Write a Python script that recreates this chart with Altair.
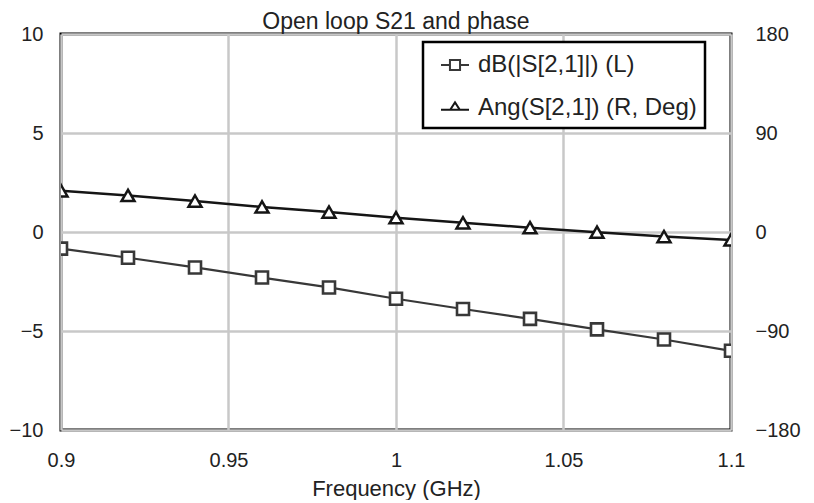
import altair as alt
import pandas as pd

freq = [0.90, 0.92, 0.94, 0.96, 0.98, 1.00, 1.02, 1.04, 1.06, 1.08, 1.10]
s21_db = [-0.84, -1.30, -1.79, -2.30, -2.80, -3.37, -3.89, -4.39, -4.92, -5.43, -6.00]
s21_ang = [37.5, 33.2, 28.1, 22.8, 18.1, 13.0, 8.4, 3.9, -0.2, -4.2, -7.2]

series = ["dB(|S[2,1]|) (L)", "Ang(S[2,1]) (R, Deg)"]
x_ticks = [0.9, 0.95, 1.0, 1.05, 1.1]
left_ticks = [-10, -5, 0, 5, 10]
right_ticks = [-180, -90, 0, 90, 180]

FONT = "Liberation Sans"
C_DB = "#383838"
C_ANG = "#151515"

df = pd.DataFrame({"freq": freq, "db": s21_db, "ang": s21_ang})
leg = pd.DataFrame({"freq": [freq[0], freq[0]], "db": [s21_db[0], s21_db[0]], "series": series})

x_enc = alt.X("freq:Q", scale=alt.Scale(domain=[0.9, 1.1], nice=False, zero=False),
              axis=alt.Axis(values=x_ticks, format="~g", title="Frequency (GHz)",
                            grid=True, gridColor="#c8c8c8", gridWidth=2.5,
                            domain=False, ticks=False, labelFontSize=20, labelFont=FONT,
                            labelColor="#222", labelBaseline="middle", labelPadding=30,
                            labelFlush=False,
                            titleFont=FONT, titleFontSize=22, titleFontWeight="normal",
                            titleColor="#222", titleBaseline="middle", titleY=58))

y_left = alt.Y("db:Q", scale=alt.Scale(domain=[-10, 10], nice=False),
               axis=alt.Axis(values=left_ticks, title=None, grid=True, gridColor="#c8c8c8",
                             gridWidth=2.5, domain=False, ticks=False, labelFontSize=20,
                             labelFont=FONT, labelColor="#222", labelPadding=18,
                             labelFlush=False))

y_right = alt.Y("ang:Q", scale=alt.Scale(domain=[-180, 180], nice=False),
                axis=alt.Axis(values=right_ticks, orient="right", title=None, grid=False,
                              domain=False, ticks=False, labelFontSize=20, labelFont=FONT,
                              labelColor="#222", labelPadding=24, labelFlush=False))

base = alt.Chart(df)

db_line = base.mark_line(color=C_DB, strokeWidth=2.2, clip=True).encode(x=x_enc, y=y_left)
db_pts = base.mark_point(shape="square", size=144, filled=True, fill="white", stroke=C_DB,
                         strokeWidth=2.6, opacity=1, clip=True).encode(x="freq:Q", y="db:Q")

sq_path = "M-1,0H-0.36M0.36,0H1M-0.36,-0.36H0.36V0.36H-0.36Z"
tri_path = "M-1,0.12H1M0,-0.4L0.34,0.12L-0.34,0.12Z"

legend_def = alt.Legend(title=None, orient="none", legendX=362, legendY=8,
                        padding=8, symbolOffset=9, labelOffset=8,
                        rowPadding=16, symbolSize=784, symbolStrokeWidth=2,
                        symbolOpacity=1, labelFontSize=24, labelFont=FONT,
                        labelColor="#222", strokeColor="black",
                        fillColor="white", labelLimit=400)

legend_layer = alt.Chart(leg).mark_point(opacity=0, filled=False, size=784).encode(
    x="freq:Q", y="db:Q",
    shape=alt.Shape("series:N", scale=alt.Scale(domain=series, range=[sq_path, tri_path]),
                    legend=legend_def),
    color=alt.Color("series:N", scale=alt.Scale(domain=series, range=[C_DB, C_ANG]),
                    legend=legend_def),
)

ang_line = base.mark_line(color=C_ANG, strokeWidth=2.5, clip=True).encode(x="freq:Q", y=y_right)
ang_pts = base.mark_point(shape="triangle-up", size=169, filled=True, fill="white",
                          stroke=C_ANG, strokeWidth=2.5, opacity=1, clip=True).encode(
    x="freq:Q", y="ang:Q")

left = alt.layer(db_line, db_pts, legend_layer)
right = alt.layer(ang_line, ang_pts)

chart = alt.layer(left, right).resolve_scale(y="independent").properties(
    width=670, height=396,
    title=alt.TitleParams("Open loop S21 and phase", font=FONT, fontSize=23,
                          fontWeight="normal", color="#222", baseline="alphabetic",
                          offset=6, dy=34),
    autosize=alt.AutoSizeParams(type="none"),
    padding={"left": 53, "top": 26, "right": 70, "bottom": 70},
).configure_view(stroke="black", strokeWidth=3).configure_legend(strokeWidth=2.5)

chart.save("out.html", embed_options={"renderer": "svg", "actions": False})
